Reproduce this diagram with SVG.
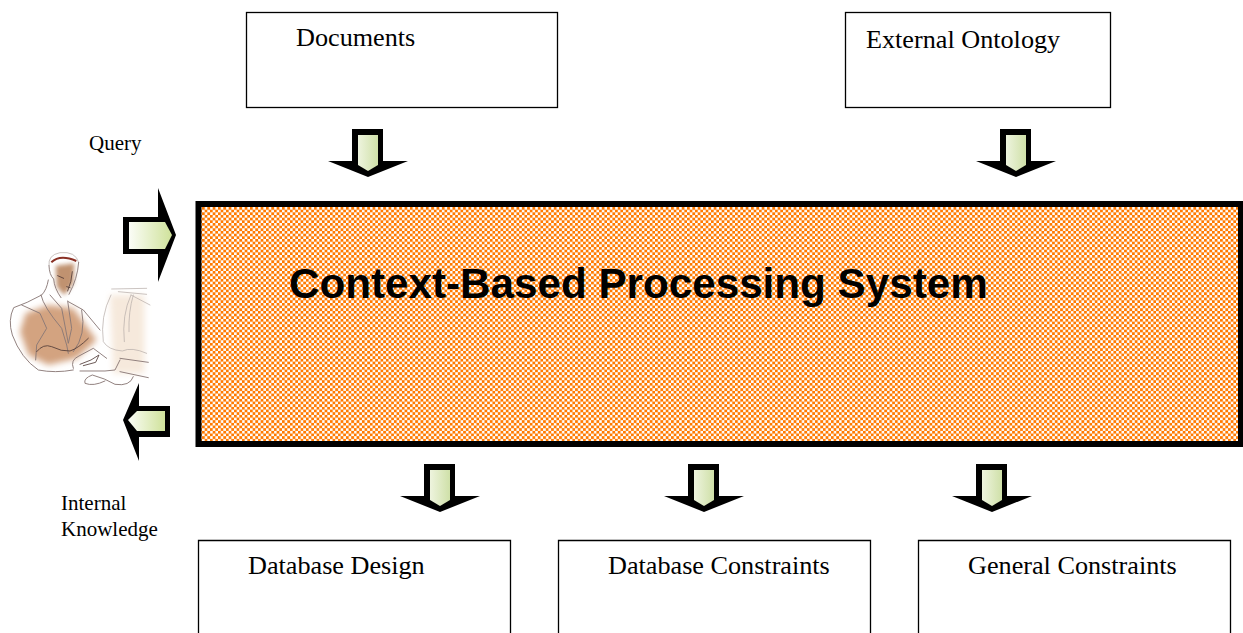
<svg xmlns="http://www.w3.org/2000/svg" width="1243" height="633" viewBox="0 0 1243 633">
<style>
.box{fill:#fff;stroke:#000;stroke-width:1.3}
.lbl{font-family:"Liberation Serif","Times New Roman",serif;font-size:26.200px;fill:#000}
.sm{font-family:"Liberation Serif","Times New Roman",serif;font-size:21px;fill:#000}
.ttl{font-family:"Liberation Sans",Arial,sans-serif;font-size:42.200px;font-weight:bold;fill:#000}
.ink{fill:none;stroke:#8a7876;stroke-width:2.800;stroke-linecap:round;stroke-linejoin:round}
.ink2{fill:none;stroke:#4f3a36;stroke-width:2.500;stroke-linecap:round;stroke-linejoin:round}
.pale{fill:none;stroke:#b8aeaa;stroke-width:2.200;stroke-linecap:round;stroke-linejoin:round}
</style>
<defs>
<pattern id="chk" width="5.330" height="5.330" patternUnits="userSpaceOnUse" x="202" y="207">
<rect width="5.330" height="5.330" fill="#fff"/>
<rect width="2.800" height="2.800" fill="#ff7a00"/>
<rect x="2.665" y="2.665" width="2.800" height="2.800" fill="#ff7a00"/>
</pattern>
<linearGradient id="gh" x1="0" x2="1" y1="0" y2="0"><stop offset="0" stop-color="#fbfdf7"/><stop offset="1" stop-color="#cfe29a"/></linearGradient>
<linearGradient id="gl" x1="1" x2="0" y1="0" y2="0"><stop offset="0" stop-color="#cfe29a"/><stop offset="1" stop-color="#fbfdf7"/></linearGradient>
<linearGradient id="gd" x1="0" x2="1" y1="0" y2="0"><stop offset="0" stop-color="#eef4de"/><stop offset="1" stop-color="#cfe0a8"/></linearGradient>
<filter id="bl" x="-30%" y="-30%" width="160%" height="160%"><feGaussianBlur stdDeviation="10"/></filter>
<filter id="bl2" x="-40%" y="-40%" width="180%" height="180%"><feGaussianBlur stdDeviation="7"/></filter>
<g id="dn">
<path d="M352 129H383V161H408L368 177L328 161H352Z" fill="#000"/>
<path d="M358 135H378V165L368 171L358 165Z" fill="url(#gd)"/>
</g>
</defs>

<g id="documents"><rect class="box" x="246.500" y="12.500" width="311" height="95"/><text class="lbl" x="296" y="46">Documents</text></g>
<g id="external-ontology"><rect class="box" x="845.500" y="12.500" width="265" height="95"/><text class="lbl" x="866" y="48">External Ontology</text></g>
<g id="database-design"><path class="box" d="M198.500 633V540.500H510.500V633"/><text class="lbl" x="248" y="574">Database Design</text></g>
<g id="database-constraints"><path class="box" d="M558.500 633V540.500H870.500V633"/><text class="lbl" x="608" y="574">Database Constraints</text></g>
<g id="general-constraints"><path class="box" d="M918.500 633V540.500H1230.500V633"/><text class="lbl" x="968" y="574">General Constraints</text></g>

<g id="system">
<rect x="198.500" y="204" width="1042.500" height="240" fill="url(#chk)" stroke="#000" stroke-width="6"/>
<text class="ttl" x="289" y="298">Context-Based Processing System</text>
</g>

<g id="query"><text class="sm" x="89" y="150">Query</text></g>
<g id="internal-knowledge"><text class="sm" x="61" y="510">Internal</text><text class="sm" x="61" y="536">Knowledge</text></g>

<g id="user" transform="translate(5 245) scale(.3333)">
<path d="M62 205L130 180L205 190L275 285L215 340L130 360L70 330L45 260Z" fill="#d3a380" filter="url(#bl)"/>
<path d="M315 150H418V385H325Z" fill="#f6e9dc" filter="url(#bl)"/>
<path d="M152 62L208 55L205 115L178 150L155 125Z" fill="#c09270" filter="url(#bl2)"/>
<path d="M139 52Q165 27 214 48" fill="none" stroke="#8a3024" stroke-width="6"/>
<path class="pale" d="M132 62Q128 30 165 23Q212 18 221 52"/>
<path class="ink" d="M132 62Q133 90 146 102Q148 130 168 158"/>
<path class="ink" d="M221 52Q218 100 192 148"/>
<path class="ink2" d="M158 92L176 100M185 125L195 128M202 80Q200 110 188 138"/>
<path class="ink" d="M130 105Q125 135 110 150Q65 175 26 188Q8 225 22 270Q48 340 100 375Q150 385 205 375"/>
<path class="ink" d="M50 180L105 205L125 250L95 300L92 345"/>
<path class="ink" d="M108 150Q115 185 170 250L185 300L190 325"/>
<path class="ink" d="M135 150L170 190L190 295L200 250L188 168"/>
<path class="ink" d="M190 170L235 195L285 255"/>
<path class="ink" d="M230 195Q245 270 205 320"/>
<path class="ink2" d="M95 320Q115 295 140 305Q170 320 195 318Q220 310 250 280"/>
<path class="ink" d="M205 370Q195 345 222 333L265 310L305 340"/>
<path class="ink2" d="M225 358L258 345L282 330L272 352L235 362"/>
<path class="ink" d="M225 378H300L330 375L345 345"/>
<path class="pale" d="M320 132L425 130M340 140L425 148M378 150Q350 210 358 290M385 150Q370 200 372 260"/>
<path class="pale" d="M378 150L435 180"/>
<path class="pale" d="M318 150Q285 215 295 290Q310 315 352 318Q380 305 425 325"/>
<path class="ink" d="M345 340L430 352M345 380L430 398"/>
<path class="ink" d="M385 395Q375 425 330 418Q300 400 262 390Q235 400 240 415Q265 425 300 408"/>
</g>

<g id="connectors">
<use href="#dn"/>
<use href="#dn" x="648"/>
<use href="#dn" x="72" y="335"/>
<use href="#dn" x="336" y="335"/>
<use href="#dn" x="624" y="335"/>
<g id="query-arrow"><path d="M123 217H158V188L176 235L158 282V254H123Z" fill="#000"/><path d="M129 222H165L172 235L165 249H129Z" fill="url(#gh)"/></g>
<g id="knowledge-arrow"><path d="M170 406V437H139V461L123 420L139 383V406Z" fill="#000"/><path d="M165 411V431H137L128 420L137 411Z" fill="url(#gl)"/></g>
</g>
</svg>
